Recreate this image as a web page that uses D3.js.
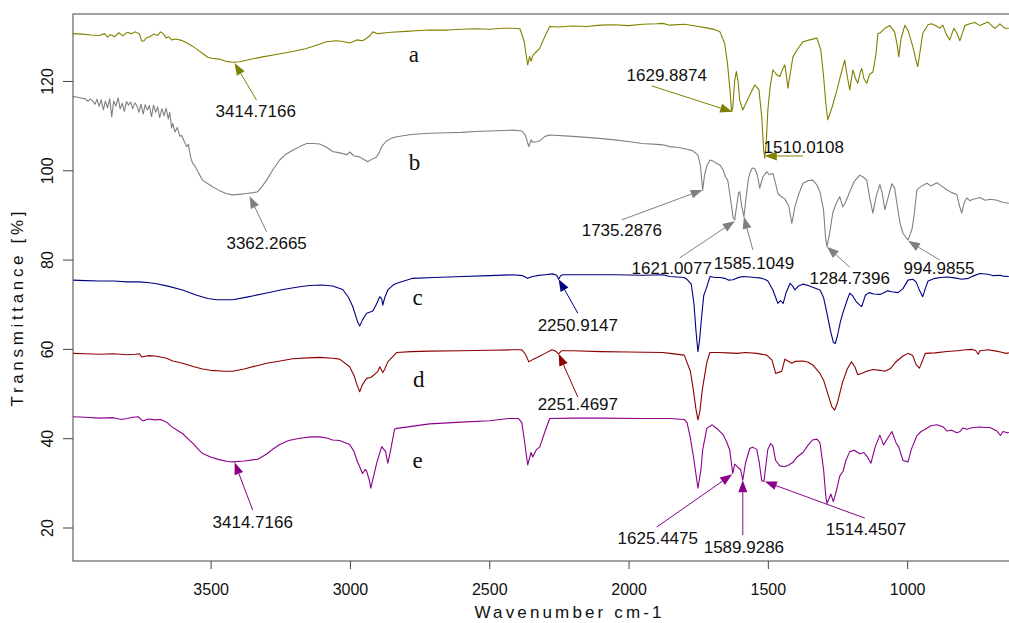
<!DOCTYPE html>
<html>
<head>
<meta charset="utf-8">
<script src="https://cdn.jsdelivr.net/npm/d3@7"></script>
<style>
  body { margin: 0; background: #fff; }
  text { font-family: "Liberation Sans", Arial, sans-serif; fill: #111; }
</style>
</head>
<body>
<div id="area"></div>
<script>
// ---- data ----
var waveA = [3995,3960,3930,3900,3880,3870,3860,3845,3830,3815,3800,3785,3770,3755,3748,3740,3730,3718,3705,3690,3680,3670,3660,3650,3640,3625,3605,3585,3565,3545,3525,3510,3495,3470,3445,3421,3396,3360,3313,3260,3206,3160,3134,3084,3050,3030,3000,2975,2954,2930,2918,2900,2870,2850,2800,2750,2714,2650,2600,2550,2500,2450,2416,2390,2375,2368,2362,2355,2350,2343,2330,2319,2300,2283,2250,2200,2150,2100,2050,2000,1950,1900,1877,1852,1800,1760,1720,1690,1672,1655,1645,1636,1630,1626,1619,1613,1607,1601,1590,1575,1560,1547,1538,1532,1522,1515,1511,1506,1500,1492,1482,1470,1457,1448,1439,1433,1428,1420,1410,1395,1374,1350,1324,1310,1300,1292,1285,1270,1252,1240,1224,1215,1206,1195,1185,1177,1168,1163,1155,1145,1135,1123,1112,1105,
  1098,1080,1062,1045,1037,1030,1022,1008,995,983,975,968,962,955,944,925,912,895,883,872,860,847,840,832,820,811,800,793,775,757,739,725,710,695,685,667,649,635];
var transA = [130.6,130.5,130.3,130.2,130.6,129.8,130.4,129.9,130.8,130.1,130.9,130.6,131.0,130.5,129.0,128.9,129.7,129.9,130.5,130.2,131.0,130.6,129.6,129.9,129.2,129.4,129.1,128.5,127.8,126.9,126.0,125.3,125.1,124.9,124.4,124.2,124.3,124.8,125.4,126.0,126.6,127.2,127.7,128.8,129.0,128.9,128.5,129.2,129.0,130.0,131.0,130.6,130.8,130.9,131.1,131.3,131.4,131.4,131.6,131.7,131.6,131.8,131.8,131.7,129.0,126.0,123.6,125.5,124.4,125.8,126.6,127.3,130.0,132.2,132.1,132.3,132.2,132.5,132.6,132.4,132.7,132.8,132.9,132.5,132.7,132.3,131.9,131.5,131.0,128.4,124.0,118.0,113.1,114.0,120.2,122.1,120.0,115.7,113.5,115.5,117.5,119.1,118.5,118.0,112.0,104.5,102.7,106.0,113.5,118.5,122.5,121.5,121.0,122.5,123.6,121.0,118.4,121.5,125.4,127.0,128.8,129.2,129.6,127.0,121.0,115.0,111.3,114.0,118.0,121.0,124.7,121.0,118.0,122.5,120.5,119.5,122.0,122.8,120.5,119.5,121.5,122.0,126.0,130.7,
  130.7,131.8,132.4,131.0,128.5,125.4,129.5,132.5,131.0,128.4,126.5,124.5,123.2,126.0,130.7,132.6,132.8,132.3,131.8,132.5,130.5,129.2,130.5,131.8,130.5,129.0,131.0,132.4,132.8,133.1,132.4,132.8,133.2,132.3,131.8,132.8,131.8,131.8];

var waveB = [3995,3980,3965,3950,3940,3932,3925,3915,3908,3900,3893,3885,3878,3870,3862,3855,3848,3840,3832,3825,3817,3810,3802,3795,3787,3780,3772,3765,3757,3750,3742,3735,3727,3720,3712,3705,3697,3690,3683,3675,3667,3660,3652,3647,3640,3636,3628,3620,3610,3604,3595,3586,3580,3572,3565,3555,3545,3529,3510,3493,3470,3445,3421,3400,3371,3345,3331,3315,3299,3275,3252,3230,3206,3180,3155,3130,3109,3085,3062,3037,3010,3001,2985,2965,2950,2936,2920,2904,2893,2886,2870,2850,2832,2780,2714,2650,2600,2550,2500,2450,2416,2383,2370,2358,2350,2344,2330,2319,2300,2283,2200,2114,2050,1996,1950,1900,1877,1852,1820,1791,1770,1751,1742,1734,1727,1719,1708,1695,1680,1672,1660,1652,1644,1635,1625,1619,1612,1605,1601,1594,1586,1578,1570,1565,1556,1547,1538,1529,1518,1504,1495,1482,1472,1464,1450,1439,1425,1414,1403,1390,1374,1355,1339,1325,1313,1300,1293,1288,1278,1267,1255,1242,1231,1220,1206,1190,1170,1158,1145,1135,1123,1110,1098,1090,1080,1068,1055,1045,1033,1025,1015,1005,997,990,982,975,965,950,929,915,893,875,857,840,822,812,804,795,786,775,764,750,739,720,700,678,655,635];
var transB = [116.5,116.4,116.2,116.0,115.4,116.0,115.6,114.8,115.9,114.3,115.8,113.5,115.5,114.0,116.0,112.0,115.5,114.4,116.2,113.8,115.0,113.2,115.4,114.6,115.3,113.8,115.1,114.5,113.0,114.8,112.6,114.7,113.5,114.5,112.0,114.6,113.0,114.2,111.8,113.8,112.2,113.9,111.5,113.0,109.5,110.5,108.6,109.6,107.6,107.8,106.5,105.3,105.8,103.0,101.6,100.8,99.6,97.8,97.0,96.3,95.5,94.8,94.5,94.6,94.8,95.0,95.2,96.4,97.8,100.3,102.3,103.6,104.5,105.3,106.0,106.0,105.9,105.2,104.2,103.9,103.5,104.1,103.2,103.0,102.4,101.9,102.5,103.0,104.2,105.3,106.5,107.2,107.5,108.0,108.3,108.4,108.5,108.7,108.8,108.9,109.0,108.8,107.8,105.3,106.8,106.3,106.4,106.6,107.6,107.9,107.6,107.2,106.8,106.4,106.0,105.8,105.7,105.3,105.1,104.7,104.4,103.4,101.0,95.6,99.0,101.0,102.3,102.0,101.4,101.2,100.0,98.5,97.8,94.0,89.5,88.9,92.0,95.0,95.2,92.0,89.6,94.0,98.0,99.3,100.5,100.4,99.0,96.0,98.5,99.7,99.0,99.3,97.0,94.8,94.0,93.6,92.0,88.1,91.8,94.5,97.1,97.7,97.8,96.8,95.2,91.0,85.0,82.9,86.0,90.5,92.5,94.1,91.8,93.0,95.2,97.5,98.9,98.5,97.8,94.0,90.4,94.5,96.8,95.0,91.2,94.0,97.0,96.0,91.0,88.0,85.9,85.0,84.4,85.5,87.0,90.0,95.6,96.4,97.1,96.5,97.2,96.4,95.6,95.0,94.6,92.0,90.4,92.8,93.8,93.2,93.5,93.7,93.9,93.3,93.5,93.3,92.8,92.6];

var waveC = [3995,3950,3900,3850,3800,3755,3720,3694,3650,3601,3550,3510,3478,3421,3370,3299,3240,3180,3145,3100,3062,3026,3005,2990,2980,2972,2965,2955,2940,2925,2918,2905,2893,2886,2882,2875,2864,2845,2832,2800,2775,2700,2595,2500,2416,2380,2362,2345,2330,2300,2272,2258,2251,2244,2236,2150,2050,1950,1877,1852,1800,1791,1775,1765,1758,1751,1745,1738,1730,1719,1708,1690,1672,1655,1640,1625,1610,1590,1565,1547,1530,1511,1500,1482,1472,1464,1455,1445,1435,1420,1410,1403,1390,1374,1355,1339,1313,1300,1288,1275,1265,1258,1250,1240,1231,1215,1206,1195,1183,1170,1163,1150,1137,1120,1098,1085,1070,1055,1033,1015,997,980,968,955,944,935,925,900,880,857,830,804,780,764,739,710,690,665,656,635];
var transC = [75.4,75.3,75.2,75.2,75.0,75.0,74.8,74.6,74.0,73.2,72.0,71.3,71.0,71.0,71.6,72.5,73.3,73.9,74.2,74.3,74.1,73.3,71.5,69.5,67.5,66.0,65.1,66.5,68.0,68.3,68.5,70.0,71.7,71.2,69.8,71.5,73.2,74.3,74.7,75.3,75.8,76.0,76.2,76.4,76.6,76.4,75.8,76.2,76.4,76.6,76.8,76.5,75.6,76.4,76.6,76.6,76.6,76.5,76.6,76.2,76.0,75.6,74.5,70.0,64.0,59.4,62.0,67.0,72.0,73.9,76.2,76.0,76.0,75.8,75.4,75.5,75.9,76.2,76.1,76.0,75.9,75.6,75.2,73.2,71.5,70.2,70.8,70.2,72.5,74.7,74.0,73.2,74.1,74.5,74.2,73.8,73.2,71.5,68.0,64.0,61.5,61.2,63.0,66.0,68.0,71.0,72.5,71.8,70.6,69.8,69.5,72.0,72.6,72.3,72.2,72.5,73.0,72.8,72.6,73.5,75.4,75.6,75.0,73.0,71.7,73.5,75.2,75.8,76.0,76.1,75.9,75.6,75.8,76.3,76.9,76.7,76.4,76.5,76.3,76.2];

var waveD = [3995,3950,3900,3850,3800,3770,3755,3748,3740,3720,3700,3680,3658,3636,3600,3560,3529,3500,3450,3421,3380,3330,3299,3250,3206,3150,3109,3062,3037,3001,2985,2975,2965,2955,2940,2925,2900,2893,2882,2875,2864,2832,2780,2714,2600,2500,2416,2383,2370,2358,2344,2330,2300,2275,2262,2251,2240,2200,2100,2000,1877,1852,1800,1791,1778,1768,1758,1751,1744,1735,1719,1708,1680,1644,1610,1580,1540,1504,1485,1472,1460,1450,1439,1425,1414,1403,1374,1355,1339,1313,1300,1285,1270,1260,1250,1232,1215,1200,1188,1177,1160,1145,1123,1098,1080,1060,1042,1015,997,980,968,956,944,935,900,857,820,790,770,755,745,739,710,680,665,645,635];
var transD = [59.0,58.9,58.8,58.9,58.7,58.8,58.9,58.2,58.3,58.5,58.4,58.2,57.9,57.3,56.8,56.0,55.5,55.2,55.0,55.0,55.5,56.3,56.8,57.3,57.8,58.0,58.1,57.9,57.7,56.0,54.0,52.0,50.4,52.0,53.4,53.6,54.9,56.0,54.7,55.5,57.1,59.2,59.4,59.5,59.6,59.7,59.8,59.8,58.8,57.1,57.6,58.0,59.0,59.8,59.5,58.9,59.6,59.6,59.4,59.3,59.2,59.0,58.6,57.1,55.0,51.0,46.5,44.1,46.0,51.0,57.0,59.2,59.2,59.1,59.0,59.2,59.0,58.6,57.5,54.5,54.8,55.0,57.7,57.2,56.8,57.2,57.3,57.0,56.4,54.5,53.0,50.0,47.0,46.3,48.0,52.5,55.5,57.1,56.0,54.2,54.6,55.0,55.4,55.2,55.0,55.6,57.0,58.4,59.0,58.5,56.5,55.7,57.5,59.0,59.1,59.4,59.6,59.8,59.9,59.7,58.8,59.6,59.8,59.5,59.3,59.0,59.1];

var waveE = [3995,3950,3900,3850,3820,3800,3780,3760,3748,3740,3730,3720,3700,3680,3658,3640,3620,3600,3580,3560,3540,3529,3500,3470,3440,3421,3380,3331,3300,3280,3252,3220,3180,3140,3109,3080,3062,3037,3001,2985,2975,2965,2955,2945,2940,2930,2925,2915,2904,2886,2872,2864,2855,2840,2832,2714,2600,2500,2430,2395,2383,2375,2362,2350,2344,2330,2319,2300,2283,2200,2100,1950,1877,1852,1800,1790,1778,1765,1751,1740,1734,1719,1700,1680,1662,1650,1637,1630,1626,1619,1608,1598,1590,1580,1565,1555,1540,1532,1522,1514,1505,1500,1490,1482,1472,1457,1440,1425,1410,1395,1374,1355,1340,1324,1313,1300,1292,1288,1280,1274,1265,1255,1242,1230,1220,1206,1190,1170,1155,1145,1130,1115,1098,1085,1070,1055,1040,1030,1015,997,985,965,950,935,915,893,870,857,840,822,810,800,786,764,740,720,703,690,678,665,656,640,635];
var transE = [44.8,44.7,44.5,44.6,44.2,44.4,44.7,44.8,44.1,43.9,44.2,44.3,44.1,44.2,43.6,42.6,41.8,41.0,39.8,38.6,37.2,36.6,35.8,35.2,34.8,34.7,34.9,35.3,36.4,37.4,38.6,39.5,40.0,40.3,40.3,40.0,39.6,39.5,38.6,37.0,35.0,33.6,32.1,33.0,32.6,30.5,28.8,31.5,34.4,38.1,37.0,34.4,37.0,42.0,42.2,43.2,43.6,43.9,44.4,44.4,43.5,40.0,34.0,36.8,35.8,37.5,38.0,41.5,44.4,44.5,44.5,44.4,44.4,44.4,44.2,43.5,40.0,35.0,28.8,33.0,37.4,42.2,43.0,42.0,40.9,39.5,37.4,34.0,32.1,34.2,33.5,33.0,30.6,34.5,37.7,38.0,37.5,35.0,30.5,30.3,35.0,37.5,38.8,38.3,35.0,33.8,33.6,34.0,34.6,35.8,36.8,38.5,39.6,39.8,39.0,33.0,27.0,25.4,26.5,27.5,25.8,28.0,31.5,32.6,35.0,37.0,37.3,36.5,36.8,36.0,34.4,38.0,40.7,38.5,40.0,41.5,39.0,38.0,35.0,34.7,37.5,40.6,41.5,42.0,42.8,43.0,42.5,41.6,41.8,41.2,41.5,42.3,42.0,42.4,42.5,42.4,42.4,42.0,41.6,40.6,41.5,41.2,41.3];

var seriesNames = ["a", "b", "c", "d", "e"];
var seriesColors = ["#808000", "#808080", "#000080", "#8b0000", "#8b008b"];
var seriesWaves = [waveA, waveB, waveC, waveD, waveE];
var seriesTrans = [transA, transB, transC, transD, transE];

// letter tags next to each trace: [wavenumber, transmittance at baseline]
var tagWave = [2771, 2768, 2757, 2753, 2757];
var tagTrans = [124.3, 100.1, 69.8, 51.4, 33.3];

var xTicks = [3500, 3000, 2500, 2000, 1500, 1000];
var yTicks = [20, 40, 60, 80, 100, 120];

// peak labels: tip of arrow, tail of arrow, label centre (all in data units)
var peakLabels = [
  { s: 0, text: "3414.7166", tip: [3414, 124.0], tail: [3335, 115.7], at: [3338, 113.3] },
  { s: 0, text: "1629.8874", tip: [1628, 113.1], tail: [1917, 118.9], at: [1863, 121.3] },
  { s: 0, text: "1510.0108", tip: [1511, 103.2], tail: [1374, 103.2], at: [1371, 105.2] },
  { s: 1, text: "3362.2665", tip: [3360, 94.2], tail: [3299, 86.2], at: [3299, 83.7] },
  { s: 1, text: "1735.2876", tip: [1734, 95.6], tail: [2024, 88.9], at: [2024, 86.6] },
  { s: 1, text: "1621.0077", tip: [1619, 88.6], tail: [1816, 80.4], at: [1845, 78.1] },
  { s: 1, text: "1585.1049", tip: [1586, 89.6], tail: [1554, 82.2], at: [1550, 79.2] },
  { s: 1, text: "1284.7396", tip: [1288, 82.9], tail: [1206, 78.3], at: [1206, 75.9] },
  { s: 1, text: "994.9855", tip: [997, 84.2], tail: [883, 79.9], at: [886, 78.1] },
  { s: 2, text: "2250.9147", tip: [2251, 75.6], tail: [2182, 68.0], at: [2182, 65.4] },
  { s: 3, text: "2251.4697", tip: [2251, 58.9], tail: [2182, 49.2], at: [2182, 47.7] },
  { s: 4, text: "3414.7166", tip: [3414, 34.6], tail: [3349, 23.9], at: [3349, 21.2] },
  { s: 4, text: "1625.4475", tip: [1628, 31.9], tail: [1899, 20.1], at: [1895, 17.6] },
  { s: 4, text: "1589.9286", tip: [1590, 30.6], tail: [1590, 18.3], at: [1586, 15.6] },
  { s: 4, text: "1514.4507", tip: [1511, 30.3], tail: [1152, 22.1], at: [1148, 19.7] }
];

// ---- layout ----
var W = 1009, H = 623;
var margin = { left: 73, top: 14, right: 1020, bottom: 561 };

var svg = d3.select("#area").append("svg")
  .attr("width", W).attr("height", H);

var x = d3.scaleLinear().domain([3994, 595]).range([margin.left, margin.right]);
var y = d3.scaleLinear().domain([12.5, 135]).range([margin.bottom, margin.top]);

svg.append("defs").append("clipPath").attr("id", "plotclip")
  .append("rect").attr("x", margin.left).attr("y", margin.top)
  .attr("width", margin.right - margin.left).attr("height", margin.bottom - margin.top);

// spectra
var line = d3.line()
  .x(function (d) { return x(d[0]); })
  .y(function (d) { return y(d[1]); });

var traces = svg.append("g").attr("clip-path", "url(#plotclip)");
seriesNames.forEach(function (name, i) {
  var pts = seriesWaves[i].map(function (w, k) { return [w, seriesTrans[i][k]]; });
  traces.append("path")
    .datum(pts)
    .attr("d", line)
    .attr("fill", "none")
    .attr("stroke", seriesColors[i])
    .attr("stroke-width", 1.1)
    .attr("stroke-linejoin", "round");
});

// series letters
seriesNames.forEach(function (name, i) {
  svg.append("text")
    .attr("x", x(tagWave[i]))
    .attr("y", y(tagTrans[i]))
    .attr("text-anchor", "middle")
    .style("font-family", "'Liberation Serif', 'Times New Roman', serif")
    .style("font-size", "23px")
    .text(name);
});

// peak arrows
var ann = svg.append("g");
peakLabels.forEach(function (p) {
  var col = seriesColors[p.s];
  var tx = x(p.tip[0]), ty = y(p.tip[1]);
  var sx = x(p.tail[0]), sy = y(p.tail[1]);
  var dx = tx - sx, dy = ty - sy, len = Math.sqrt(dx * dx + dy * dy);
  var ux = dx / len, uy = dy / len;
  var hl = 12, hw = 4.5;
  var bx = tx - ux * hl, by = ty - uy * hl;
  ann.append("line")
    .attr("x1", sx).attr("y1", sy).attr("x2", bx).attr("y2", by)
    .attr("stroke", col).attr("stroke-width", 1);
  ann.append("path")
    .attr("d", "M" + tx + "," + ty +
      "L" + (bx - uy * hw) + "," + (by + ux * hw) +
      "L" + (bx + uy * hw) + "," + (by - ux * hw) + "Z")
    .attr("fill", col);
  ann.append("text")
    .attr("x", x(p.at[0]))
    .attr("y", y(p.at[1]))
    .attr("dy", "0.36em")
    .attr("text-anchor", "middle")
    .style("font-size", "17px")
    .text(p.text);
});

// box
svg.append("rect")
  .attr("x", margin.left).attr("y", margin.top)
  .attr("width", margin.right - margin.left).attr("height", margin.bottom - margin.top)
  .attr("fill", "none").attr("stroke", "#444").attr("stroke-width", 1);

// axes
var xAxis = svg.append("g")
  .attr("transform", "translate(0," + margin.bottom + ")")
  .call(d3.axisBottom(x).tickValues(xTicks).tickSize(8).tickPadding(15).tickFormat(d3.format("d")));
xAxis.select(".domain").remove();
xAxis.selectAll("line").attr("stroke", "#444");
xAxis.selectAll("text").style("font-size", "16px").style("font-family", "'Liberation Sans', Arial, sans-serif").attr("fill", "#111");

var yAxis = svg.append("g")
  .attr("transform", "translate(" + margin.left + ",0)")
  .call(d3.axisLeft(y).tickValues(yTicks).tickSize(10).tickFormat(d3.format("d")));
yAxis.select(".domain").remove();
yAxis.selectAll("line").attr("stroke", "#444");
yAxis.selectAll("text")
  .attr("transform", "rotate(-90)")
  .attr("x", 0).attr("y", -20).attr("dy", 0)
  .attr("text-anchor", "middle")
  .style("font-size", "16px").style("font-family", "'Liberation Sans', Arial, sans-serif")
  .attr("fill", "#111");

// titles
svg.append("text")
  .attr("x", 568).attr("y", 618)
  .attr("text-anchor", "middle")
  .attr("textLength", 187).attr("lengthAdjust", "spacing")
  .style("font-size", "17px")
  .text("Wavenumber cm-1");

svg.append("text")
  .attr("transform", "translate(23,309) rotate(-90)")
  .attr("text-anchor", "middle")
  .attr("textLength", 195).attr("lengthAdjust", "spacing")
  .style("font-size", "17px")
  .text("Transmittance [%]");

// sanity check on hand-typed arrays
seriesWaves.forEach(function (w, i) {
  if (w.length !== seriesTrans[i].length) {
    throw new Error("length mismatch in series " + seriesNames[i] + ": " + w.length + " vs " + seriesTrans[i].length);
  }
});
</script>
</body>
</html>
